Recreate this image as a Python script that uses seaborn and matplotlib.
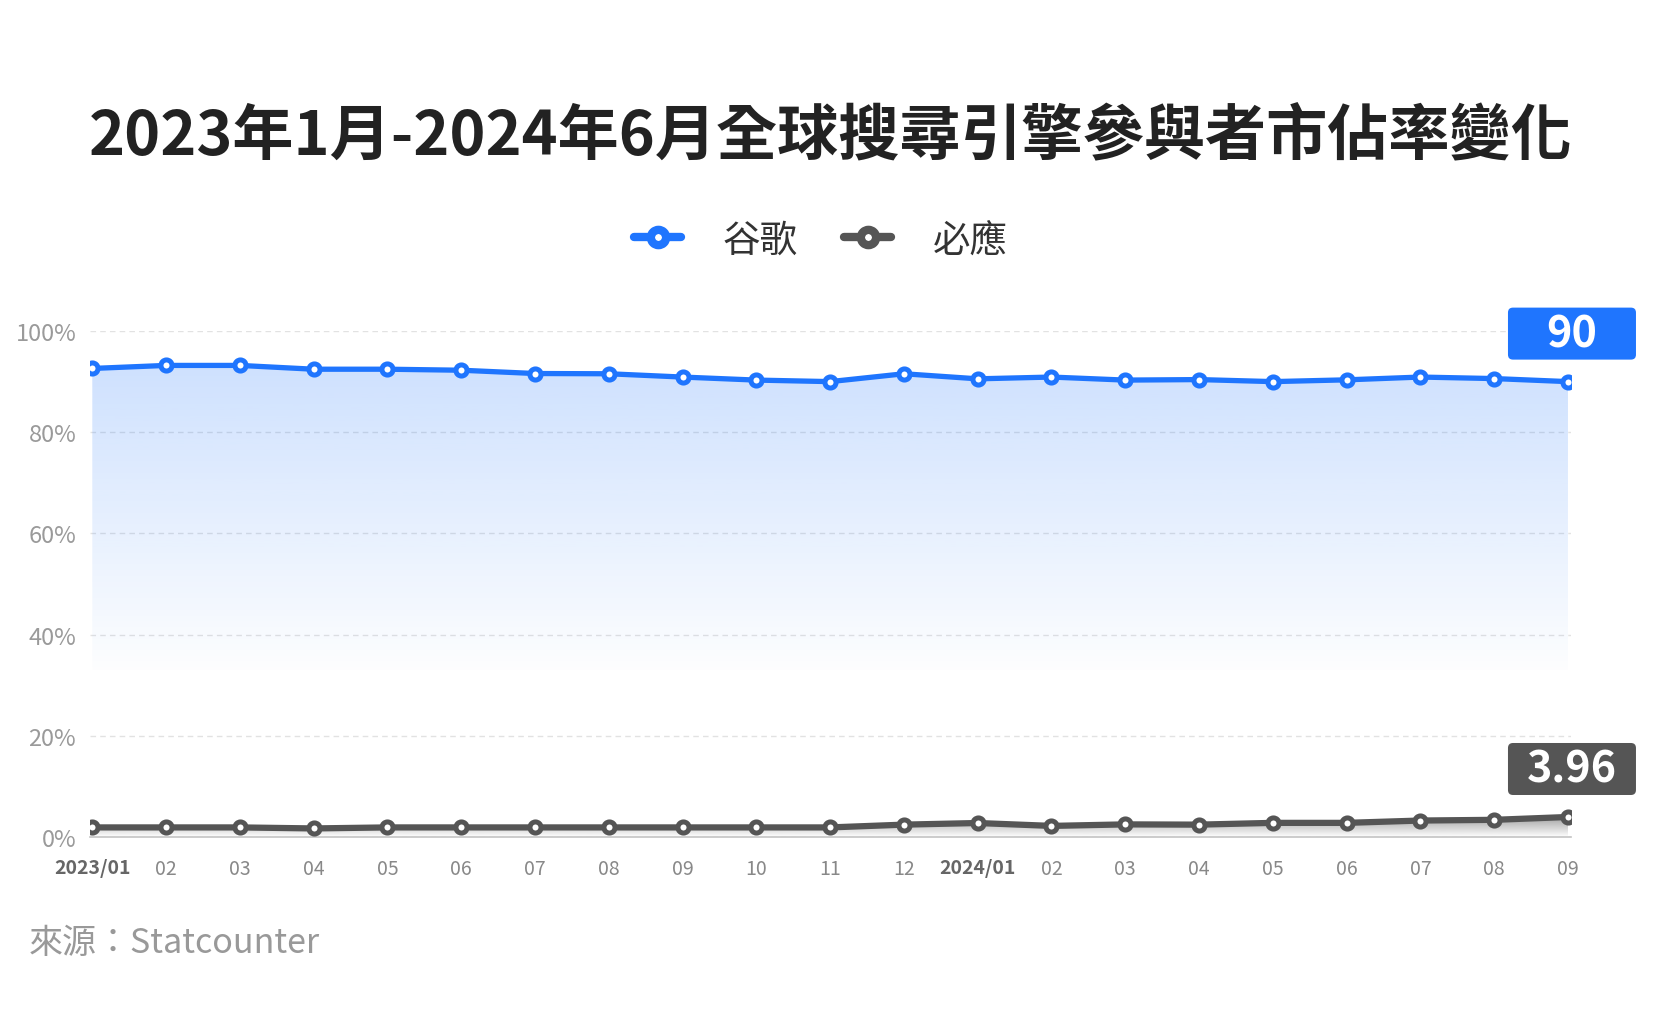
import numpy as np
import pandas as pd
import matplotlib
matplotlib.use("Agg")
import matplotlib.pyplot as plt
import matplotlib.transforms as mtransforms
from matplotlib.colors import to_rgb
from matplotlib.patches import FancyBboxPatch
import seaborn as sns

# data
months = ["2023/01", "02", "03", "04", "05", "06", "07", "08", "09", "10", "11", "12",
          "2024/01", "02", "03", "04", "05", "06", "07", "08", "09"]
google = [92.6, 93.2, 93.2, 92.45, 92.45, 92.25, 91.6, 91.55, 90.9, 90.3, 90.0, 91.55,
          90.55, 90.9, 90.3, 90.4, 90.0, 90.35, 90.9, 90.6, 90.0]
bing = [1.9, 1.9, 1.9, 1.7, 1.9, 1.9, 1.9, 1.9, 1.9, 1.9, 1.9, 2.45,
        2.77, 2.2, 2.5, 2.45, 2.8, 2.8, 3.26, 3.4, 3.96]
series_names = ["谷歌", "必應"]
y_ticks = [0, 20, 40, 60, 80, 100]
title = "2023年1月-2024年6月全球搜尋引擎參與者市佔率變化"
source = "來源：Statcounter"

BLUE = "#1f75fe"
GRAY = "#555555"

sns.set_theme(style="white")
plt.rcParams["font.family"] = ["Noto Sans CJK TC", "DejaVu Sans"]

fig = plt.figure(figsize=(16.62, 10.20), dpi=100)
ax = fig.add_axes([0.0542, 0.1784, 0.8910, 0.4961])

x = np.arange(len(months))
df = pd.DataFrame({"idx": x, "google": google, "bing": bing})


def gradient_fill(xs, ys, base, color, a_top, y_top, y_bot):
    poly = ax.fill_between(xs, ys, base, color="none", lw=0)
    grad = np.zeros((256, 1, 4))
    grad[:, :, :3] = to_rgb(color)
    grad[:, 0, 3] = np.linspace(a_top, 0, 256)
    im = ax.imshow(grad, extent=[xs.min(), xs.max(), y_bot, y_top],
                   aspect="auto", origin="upper", zorder=1)
    im.set_clip_path(poly.get_paths()[0], transform=ax.transData)


gradient_fill(x, df["google"].values, 33, BLUE, 0.22, 93.5, 30)
gradient_fill(x, df["bing"].values, 0, GRAY, 0.6, 4.2, 0)

sns.lineplot(data=df, x="idx", y="google", color=BLUE, lw=3.8, marker="o", ms=8,
             mfc="white", mec=BLUE, mew=3.6, label=series_names[0], ax=ax, zorder=3)
sns.lineplot(data=df, x="idx", y="bing", color=GRAY, lw=4.5, marker="o", ms=8,
             mfc="white", mec=GRAY, mew=3.6, label=series_names[1], ax=ax, zorder=3)

ax.set_xlim(-0.03, len(months) - 1 + 0.04)
ax.set_ylim(0, 100)
ax.set_xlabel("")
ax.set_ylabel("")

ax.set_yticks(y_ticks, labels=[f"{v}%" for v in y_ticks])
ax.set_xticks(x, labels=months)
ax.tick_params(axis="y", length=0, pad=10, labelsize=17, labelcolor="#9a9a9a")
ax.tick_params(axis="x", length=0, pad=15, labelsize=14, labelcolor="#888888")
for lbl in ax.get_xticklabels():
    if "/" in lbl.get_text():
        lbl.set_fontweight("bold")
        lbl.set_color("#666666")

ax.yaxis.grid(True, linestyle=(0, (4, 3)), color="#e2e2e2", lw=1)
ax.set_axisbelow(True)
for side in ["top", "right", "left"]:
    ax.spines[side].set_visible(False)
ax.spines["bottom"].set_color("#c4c4c4")
ax.spines["bottom"].set_linewidth(1.2)

# end value boxes
for vals, color in [(google, BLUE), (bing, GRAY)]:
    trans = fig.dpi_scale_trans + mtransforms.ScaledTranslation(x[-1], vals[-1], ax.transData)
    box = FancyBboxPatch((-0.60, 0.22), 1.28, 0.52, boxstyle="round,pad=0,rounding_size=0.05",
                         transform=trans, fc=color, ec="none", clip_on=False, zorder=5)
    ax.add_artist(box)
    ax.text(0.04, 0.48, f"{vals[-1]:g}", transform=trans, ha="center", va="center",
            color="white", fontsize=31, fontweight="bold", zorder=6, clip_on=False)

leg = ax.legend(loc="center", bbox_to_anchor=(0.494, 1 - 241 / 1020), bbox_transform=fig.transFigure,
                ncol=2, frameon=False, fontsize=27, handlelength=1.25, handletextpad=1.1,
                columnspacing=1.25)
for h in leg.legend_handles:
    h.set_linewidth(6)
    h.set_markersize(11)
    h.set_markeredgewidth(6)
for t in leg.get_texts():
    t.set_color("#333333")

fig.text(0.5, 1 - 138 / 1020, title, ha="center", va="center", fontsize=44,
         fontweight="bold", color="#222222")
fig.text(29 / 1662, 1 - 944 / 1020, source, ha="left", va="center", fontsize=24.5, color="#999999")

fig.savefig("out.png", dpi=100)
